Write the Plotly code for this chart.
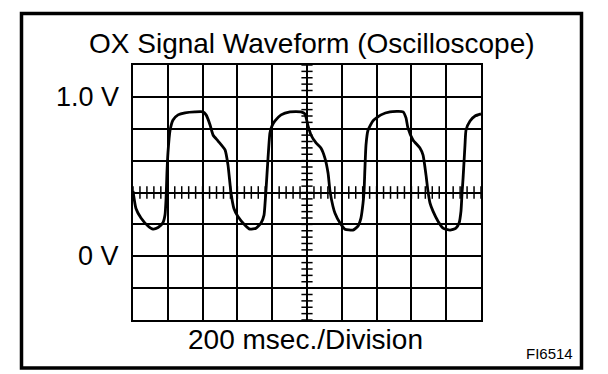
import numpy as np
import plotly.graph_objects as go

# Oscilloscope trace: time (ms) and voltage (V)
time_ms = [0, 17, 46, 86, 115, 144, 172, 184, 190, 195, 201, 213, 230, 259, 299, 356, 402, 420,
           443, 460, 489, 529, 546, 563, 580, 603, 644, 672, 707, 736, 753, 759, 764, 776, 787,
           799, 816, 851, 902, 965, 988, 1006, 1023, 1052, 1080, 1103, 1121, 1132, 1149, 1161,
           1190, 1218, 1264, 1293, 1310, 1322, 1328, 1333, 1339, 1351, 1379, 1425, 1477, 1552,
           1569, 1580, 1609, 1649, 1667, 1684, 1695, 1707, 1724, 1753, 1782, 1822, 1856, 1874,
           1885, 1891, 1897, 1908, 1914, 1937, 1966, 2000]
volts = [0.41, 0.30, 0.24, 0.19, 0.17, 0.18, 0.21, 0.26, 0.36, 0.52, 0.65, 0.79, 0.855, 0.887,
         0.90, 0.906, 0.906, 0.887, 0.824, 0.761, 0.723, 0.667, 0.572, 0.40, 0.30, 0.25, 0.195,
         0.17, 0.176, 0.208, 0.258, 0.333, 0.41, 0.616, 0.774, 0.818, 0.849, 0.887, 0.906, 0.906,
         0.893, 0.818, 0.761, 0.711, 0.679, 0.616, 0.522, 0.41, 0.314, 0.27, 0.208, 0.17, 0.164,
         0.189, 0.239, 0.333, 0.41, 0.553, 0.698, 0.792, 0.849, 0.887, 0.906, 0.906, 0.868, 0.805,
         0.73, 0.679, 0.635, 0.509, 0.41, 0.333, 0.283, 0.22, 0.176, 0.164, 0.176, 0.208, 0.283,
         0.396, 0.49, 0.698, 0.792, 0.849, 0.88, 0.893]

title_text = "OX Signal Waveform (Oscilloscope)"
x_label = "200 msec./Division"
y_labels = ["1.0 V", "0 V"]
y_label_values = [1.0, 0.0]
figure_id = "FI6514"

x_range = [0, 2000]
y_range = [-0.4, 1.2]
x_div = 200
y_div = 0.2
center_t = 1000
center_v = 0.4

FONT = "Liberation Sans, Arial, Helvetica, sans-serif"

fig = go.Figure()

# minor graticule ticks on the centre axes (5 per division)
h_ticks = [t for t in np.arange(x_range[0], x_range[1] + 1e-9, x_div / 5)]
v_ticks = [v for v in np.arange(y_range[0], y_range[1] + 1e-9, y_div / 5)]
fig.add_trace(go.Scatter(x=h_ticks, y=[center_v] * len(h_ticks), mode="markers",
                         marker=dict(symbol="line-ns-open", size=9, color="black",
                                     line=dict(color="black", width=1.5)),
                         hoverinfo="skip", showlegend=False))
fig.add_trace(go.Scatter(x=[center_t] * len(v_ticks), y=v_ticks, mode="markers",
                         marker=dict(symbol="line-ew-open", size=8, color="black",
                                     line=dict(color="black", width=1.5)),
                         hoverinfo="skip", showlegend=False))

fig.add_trace(go.Scatter(x=time_ms, y=volts, mode="lines",
                         line=dict(color="black", width=2.8, shape="spline", smoothing=0.5),
                         showlegend=False))

fig.update_xaxes(range=x_range, dtick=x_div, tick0=0, showgrid=True, gridcolor="black",
                 gridwidth=1.5, showline=True, linecolor="black", linewidth=1.8, mirror=True,
                 showticklabels=False, ticks="", zeroline=False, fixedrange=True)
fig.update_yaxes(range=y_range, dtick=y_div, tick0=0, showgrid=True, gridcolor="black",
                 gridwidth=1.5, showline=True, linecolor="black", linewidth=1.8, mirror=True,
                 showticklabels=False, ticks="", zeroline=False, fixedrange=True)

annotations = [
    dict(text=title_text, xref="paper", yref="paper", x=0.514, y=1.085,
         xanchor="center", yanchor="middle", showarrow=False,
         font=dict(family=FONT, size=28, color="black")),
    dict(text=x_label, xref="paper", yref="paper", x=0.4957, y=-0.075,
         xanchor="center", yanchor="middle", showarrow=False,
         font=dict(family=FONT, size=28, color="black")),
    dict(text=figure_id, xref="paper", yref="paper", x=1.27, y=-0.13,
         xanchor="right", yanchor="middle", showarrow=False,
         font=dict(family=FONT, size=15, color="black")),
]
for lab, val in zip(y_labels, y_label_values):
    annotations.append(dict(text=lab, xref="paper", yref="y", x=-0.035, y=val,
                            xanchor="right", yanchor="middle", showarrow=False,
                            font=dict(family=FONT, size=27, color="black")))

fig.update_layout(
    width=608, height=374,
    margin=dict(l=125, r=135, t=57, b=62),
    paper_bgcolor="white", plot_bgcolor="white",
    annotations=annotations,
    shapes=[dict(type="rect", xref="paper", yref="paper",
                 x0=-0.3204, x1=1.2888, y0=-0.188, y1=1.202,
                 line=dict(color="black", width=3.5), fillcolor="rgba(0,0,0,0)")],
)

fig.write_html("out.html", config={"displayModeBar": False})
